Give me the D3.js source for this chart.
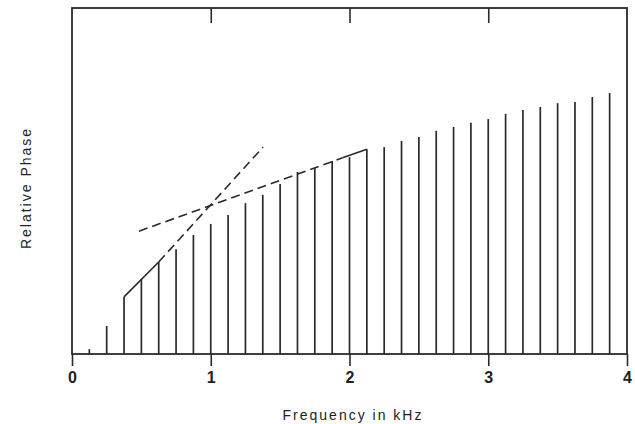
<!DOCTYPE html>
<html>
<head>
<meta charset="utf-8">
<script src="https://cdn.jsdelivr.net/npm/d3@7"></script>
<style>
  html, body { margin: 0; padding: 0; background: #fff; }
  svg { display: block; }
  text { font-family: "Liberation Sans", Arial, Helvetica, sans-serif; fill: #222; }
</style>
</head>
<body>
<svg id="chart" width="635" height="424"></svg>
<script>
// Harmonic frequencies (kHz), fundamental 125 Hz
const frequencies = [0.125,0.25,0.375,0.5,0.625,0.75,0.875,1.0,1.125,1.25,1.375,1.5,1.625,1.75,1.875,2.0,
  2.125,2.25,2.375,2.5,2.625,2.75,2.875,3.0,3.125,3.25,3.375,3.5,3.625,3.75,3.875];
// Relative phase (arbitrary units, 0..10 full frame)
const phases = [0.14,0.81,1.65,2.17,2.66,3.03,3.44,3.76,4.02,4.36,4.60,4.91,5.26,5.38,5.58,5.69,
  5.92,5.98,6.16,6.27,6.45,6.56,6.68,6.79,6.94,7.05,7.14,7.25,7.28,7.43,7.54];
// Envelope / asymptote lines [frequency, phase]
const steepSolid  = [[0.375,1.65],[0.625,2.66]];
const steepDashed = [[0.625,2.66],[1.377,5.98]];
const shallowDashed = [[0.483,3.55],[1.95,5.67]];
const shallowSolid  = [[1.95,5.67],[2.125,5.92]];
const xTicks = [0,1,2,3,4];
const xTopTicks = [1,2,3];
const xLabel = "Frequency in kHz";
const yLabel = "Relative Phase";

const svg = d3.select("#chart");
const mLeft = 72, mRight = 627, mTop = 8, mBottom = 354;
const x = d3.scaleLinear().domain([0,4]).range([mLeft,mRight]);
const y = d3.scaleLinear().domain([0,10]).range([mBottom,mTop]);
const ink = "#2a2a2a";

// Bars (harmonic lines)
svg.append("g").selectAll("line").data(frequencies).join("line")
  .attr("x1", d => x(d)).attr("x2", d => x(d))
  .attr("y1", y(0)).attr("y2", (d,i) => y(phases[i]))
  .attr("stroke", ink).attr("stroke-width", 1.7);

const line = d3.line().x(d => x(d[0])).y(d => y(d[1]));
function drawLine(data, dash) {
  svg.append("path").datum(data).attr("d", line)
    .attr("fill","none").attr("stroke", ink).attr("stroke-width", 1.6)
    .attr("stroke-dasharray", dash || null);
}
drawLine(steepSolid);
drawLine(steepDashed, "9,5");
drawLine(shallowDashed, "9,5");
drawLine(shallowSolid);

// Frame
svg.append("rect").attr("x", mLeft).attr("y", mTop)
  .attr("width", mRight-mLeft).attr("height", mBottom-mTop)
  .attr("fill","none").attr("stroke", ink).attr("stroke-width", 1.8);

// Bottom axis
const ax = svg.append("g").attr("transform", `translate(0,${mBottom})`)
  .call(d3.axisBottom(x).tickValues(xTicks).tickFormat(d3.format("d")).tickSize(12).tickPadding(6));
ax.select(".domain").remove();
ax.selectAll(".tick line").attr("stroke", ink).attr("stroke-width", 1.6);
ax.selectAll(".tick text").attr("font-size", 16).attr("font-weight", "bold")
  .attr("font-family", "Liberation Sans, Arial, sans-serif").attr("fill", "#222");

// Top axis (inward ticks)
const at = svg.append("g").attr("transform", `translate(0,${mTop})`)
  .call(d3.axisTop(x).tickValues(xTopTicks).tickFormat("").tickSize(-15));
at.select(".domain").remove();
at.selectAll(".tick line").attr("stroke", ink).attr("stroke-width", 1.6);

// Axis titles
svg.append("text").attr("x", 353).attr("y", 420).attr("text-anchor","middle")
  .attr("font-size", 14).attr("letter-spacing", "2px").text(xLabel);
svg.append("text").attr("transform", "translate(31,188) rotate(-90)").attr("text-anchor","middle")
  .attr("font-size", 14).attr("letter-spacing", "2px").text(yLabel);
</script>
</body>
</html>
